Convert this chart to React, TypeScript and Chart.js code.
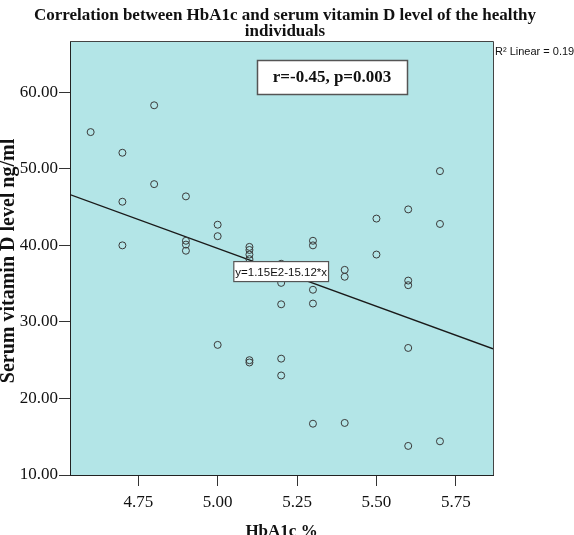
import { useEffect, useRef } from "react";
import { Chart, registerables } from "chart.js";

Chart.register(...registerables);

// HbA1c (%) and serum vitamin D (ng/ml) for each individual
const hba1c = [
  4.6,
  4.7, 4.7, 4.7,
  4.8, 4.8,
  4.9, 4.9, 4.9, 4.9,
  5.0, 5.0, 5.0,
  5.1, 5.1, 5.1, 5.1, 5.1, 5.1,
  5.2, 5.2, 5.2, 5.2, 5.2,
  5.3, 5.3, 5.3, 5.3, 5.3,
  5.4, 5.4, 5.4,
  5.5, 5.5,
  5.6, 5.6, 5.6, 5.6, 5.6,
  5.7, 5.7, 5.7,
];
const vitaminD = [
  54.8,
  52.1, 45.7, 40.0,
  58.3, 48.0,
  46.4, 40.6, 40.1, 39.3,
  42.7, 41.2, 27.0,
  39.8, 39.4, 38.8, 38.2, 25.0, 24.7,
  37.6, 35.1, 32.3, 25.2, 23.0,
  40.6, 40.0, 34.2, 32.4, 16.7,
  36.8, 35.9, 16.8,
  43.5, 38.8,
  44.7, 35.4, 34.8, 26.6, 13.8,
  49.7, 42.8, 14.4,
];

const xTicks = [4.75, 5.0, 5.25, 5.5, 5.75];
const yTicks = [10, 20, 30, 40, 50, 60];
const xRange = [4.535, 5.867];
const yRange = [10, 66.7];

const fitIntercept = 115.2;
const fitSlope = -15.12;
const labelAtX = 5.2;

const titleLines = [
  "Correlation between HbA1c and serum vitamin D level of the healthy",
  "individuals",
];
const xTitle = "HbA1c %";
const yTitle = "Serum vitamin D level ng/ml";
const statText = "r=-0.45, p=0.003";
const eqText = "y=1.15E2-15.12*x";
const r2Text = "R² Linear = 0.198";

const fitY = (x: number) => fitIntercept + fitSlope * x;

export default function App() {
  const ref = useRef<HTMLCanvasElement | null>(null);

  useEffect(() => {
    if (!ref.current) return;
    const overlay = {
      id: "overlay",
      beforeDraw(chart: any) {
        const { ctx, chartArea: a } = chart;
        ctx.save();
        ctx.fillStyle = "rgb(179,229,231)";
        ctx.fillRect(a.left, a.top, a.right - a.left, a.bottom - a.top);
        ctx.restore();
      },
      afterDraw(chart: any) {
        const { ctx, chartArea: a } = chart;
        const xs = chart.scales.x;
        const ys = chart.scales.y;
        ctx.save();
        // frame top/right
        ctx.strokeStyle = "#444";
        ctx.lineWidth = 1;
        ctx.beginPath();
        ctx.moveTo(a.left, a.top + 0.5);
        ctx.lineTo(a.right + 0.5, a.top + 0.5);
        ctx.lineTo(a.right + 0.5, a.bottom);
        ctx.stroke();

        // title
        ctx.fillStyle = "#111";
        ctx.font = "bold 17px 'Liberation Serif'";
        ctx.textAlign = "center";
        ctx.textBaseline = "middle";
        ctx.fillText(titleLines[0], 285, 16);
        ctx.fillText(titleLines[1], 285, 32);

        // x title
        ctx.font = "bold 17px 'Liberation Serif'";
        ctx.textBaseline = "alphabetic";
        ctx.fillText(xTitle, (a.left + a.right) / 2, 536);

        // y title
        ctx.save();
        ctx.translate(14, (a.top + a.bottom) / 2 + 3);
        ctx.rotate(-Math.PI / 2);
        ctx.font = "bold 20px 'Liberation Serif'";
        ctx.textBaseline = "alphabetic";
        ctx.fillText(yTitle, 0, 0);
        ctx.restore();

        // stat box
        const bx = a.left + 187;
        const by = a.top + 19;
        const bw = 150;
        const bh = 34;
        ctx.fillStyle = "#fff";
        ctx.fillRect(bx, by, bw, bh);
        ctx.strokeStyle = "#555";
        ctx.lineWidth = 1.5;
        ctx.strokeRect(bx + 0.5, by + 0.5, bw, bh);
        ctx.fillStyle = "#111";
        ctx.font = "bold 17px 'Liberation Serif'";
        ctx.textAlign = "center";
        ctx.textBaseline = "middle";
        ctx.fillText(statText, bx + bw / 2, by + bh / 2 + 1);

        // equation label
        const cx = xs.getPixelForValue(labelAtX);
        const cy = ys.getPixelForValue(fitY(labelAtX));
        ctx.font = "11.5px 'Liberation Sans'";
        const tw = ctx.measureText(eqText).width;
        const lw = tw + 3;
        const lh = 20;
        ctx.fillStyle = "#fff";
        ctx.fillRect(cx - lw / 2, cy - lh / 2, lw, lh);
        ctx.strokeStyle = "#555";
        ctx.lineWidth = 1.2;
        ctx.strokeRect(cx - lw / 2, cy - lh / 2, lw, lh);
        ctx.fillStyle = "#111";
        ctx.fillText(eqText, cx, cy + 1);

        // R² label
        ctx.font = "11px 'Liberation Sans'";
        ctx.textAlign = "left";
        ctx.fillText(r2Text, a.right + 2, a.top + 11);
        ctx.restore();
      },
    };

    const points = hba1c.map((x, i) => ({ x, y: vitaminD[i] }));
    const chart = new Chart(ref.current, {
      type: "scatter",
      data: {
        datasets: [
          {
            type: "scatter",
            data: points,
            pointRadius: 3.5,
            pointHoverRadius: 3.5,
            borderWidth: 1,
            borderColor: "#3a3a3a",
            backgroundColor: "rgba(0,0,0,0)",
          } as any,
          {
            type: "line",
            data: [
              { x: xRange[0], y: fitY(xRange[0]) },
              { x: xRange[1], y: fitY(xRange[1]) },
            ],
            pointRadius: 0,
            borderColor: "#1a1a1a",
            borderWidth: 1.3,
            fill: false,
          } as any,
        ],
      },
      options: {
        responsive: false,
        animation: false,
        devicePixelRatio: 1,
        layout: { padding: { top: 41, right: 81, left: 0, bottom: 0 } },
        plugins: {
          legend: { display: false },
          tooltip: { enabled: false },
          title: { display: false },
        },
        scales: {
          x: {
            type: "linear",
            min: xRange[0],
            max: xRange[1],
            afterBuildTicks: (s: any) => {
              s.ticks = xTicks.map((v) => ({ value: v }));
            },
            afterFit: (s: any) => {
              s.height = 60;
            },
            ticks: {
              callback: (v: any) => Number(v).toFixed(2),
              font: { family: "'Liberation Serif'", size: 17 },
              color: "#111",
              padding: 6,
              maxRotation: 0,
              autoSkip: false,
            },
            grid: {
              drawOnChartArea: false,
              drawTicks: true,
              tickLength: 11,
              tickColor: "#333",
              color: "#333",
            },
            border: { color: "#222", width: 1 },
          },
          y: {
            type: "linear",
            min: yRange[0],
            max: yRange[1],
            afterBuildTicks: (s: any) => {
              s.ticks = yTicks.map((v) => ({ value: v }));
            },
            afterFit: (s: any) => {
              s.width = 70;
            },
            ticks: {
              callback: (v: any) => Number(v).toFixed(2),
              font: { family: "'Liberation Serif'", size: 17 },
              color: "#111",
              padding: 1,
              autoSkip: false,
            },
            grid: {
              drawOnChartArea: false,
              drawTicks: true,
              tickLength: 11,
              tickColor: "#333",
              color: "#333",
            },
            border: { color: "#222", width: 1 },
          },
        },
      },
      plugins: [overlay],
    } as any);
    return () => chart.destroy();
  }, []);

  return (
    <div style={{ position: "absolute", left: 0, top: 0, width: 574, height: 535 }}>
      <canvas ref={ref} width={574} height={535} style={{ width: 574, height: 535, display: "block" }} />
    </div>
  );
}
